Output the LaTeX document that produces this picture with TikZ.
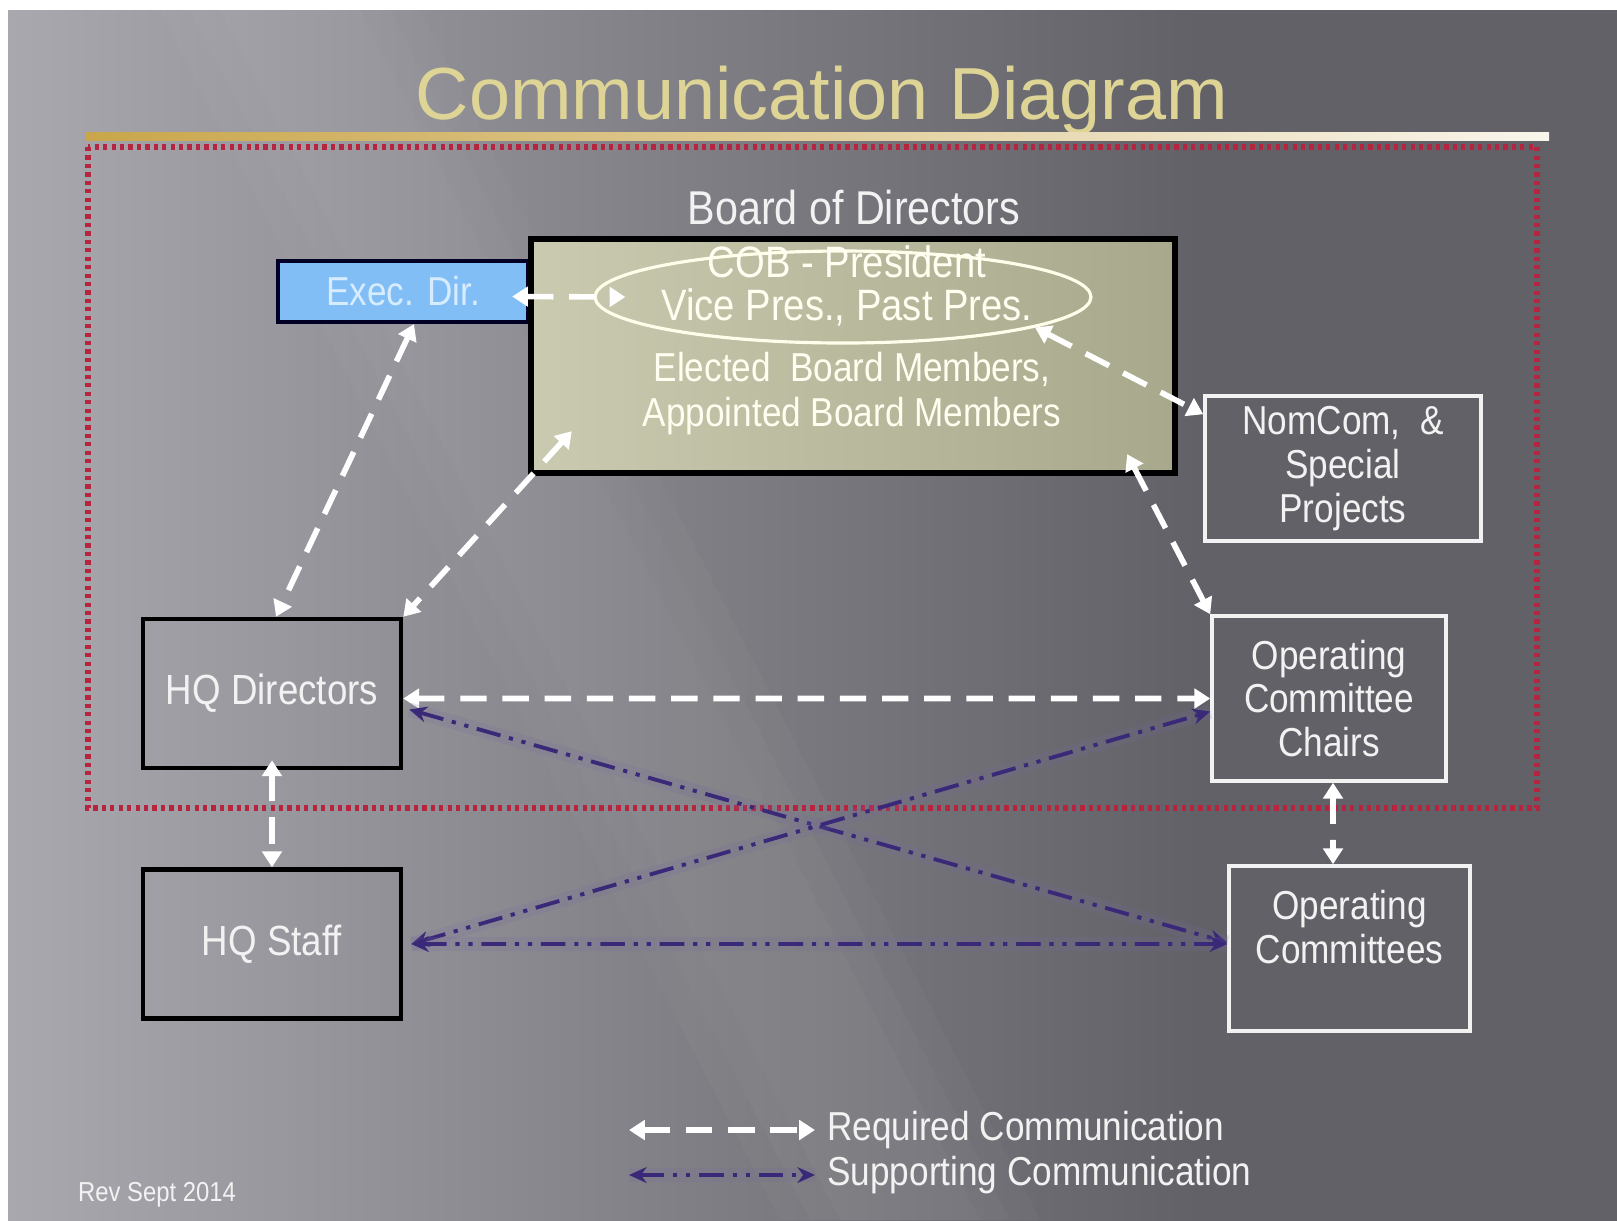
\documentclass[tikz,border=0pt]{standalone}
\usepackage{fontspec}
\setmainfont{Liberation Sans}[FakeStretch=0.87]
\newfontfamily\titlefont{Liberation Sans}
\usepackage{tikz}
\usetikzlibrary{positioning}
\usetikzlibrary{arrows.meta,shapes}
\definecolor{slatelight}{RGB}{170,168,175}
\definecolor{slatemid}{RGB}{130,129,135}
\definecolor{slatedark}{RGB}{98,97,103}
\definecolor{titlegold}{RGB}{222,212,150}
\definecolor{bargold}{RGB}{201,166,74}
\definecolor{barpale}{RGB}{238,228,190}
\definecolor{barwhite}{RGB}{248,245,236}
\definecolor{dotred}{RGB}{182,36,64}
\definecolor{boardlight}{RGB}{202,202,176}
\definecolor{boarddark}{RGB}{168,168,140}
\definecolor{execblue}{RGB}{128,190,245}
\definecolor{exectext}{RGB}{215,236,255}
\definecolor{suppurple}{RGB}{58,40,120}
\pgfdeclarehorizontalshading{slide}{100bp}{color(0bp)=(slatelight); color(25bp)=(slatelight); color(45bp)=(slatemid); color(62bp)=(slatedark); color(100bp)=(slatedark)}
\tikzstyle{box}=[rectangle,draw=white!95!black,line width=1pt,text=white!95!black,align=center,inner sep=0pt,font=\fontsize{11.5}{12.4}\selectfont]
\tikzstyle{hqbox}=[box,draw=black,line width=1.3pt,font=\fontsize{12}{13}\selectfont]
\tikzstyle{execbox}=[box,draw=black!85!blue,line width=1.2pt,fill=execblue,text=exectext]
\tikzstyle{boardbox}=[rectangle,draw=black,line width=1.8pt,left color=boardlight,right color=boarddark,inner sep=0pt]
\tikzstyle{cobring}=[ellipse,draw=white!92!yellow,line width=0.9pt,inner sep=0pt]
\tikzstyle{boardtext}=[text=white!94!yellow,align=center,font=\fontsize{11.5}{12.8}\selectfont]
\tikzstyle{legendtext}=[text=white!95!black,font=\fontsize{11.5}{13}\selectfont]
\tikzstyle{required}=[draw,white,line width=1.6pt,dash pattern=on 7.5pt off 4.5pt,{Triangle[length=4.5pt,width=5.5pt]}-{Triangle[length=4.5pt,width=5.5pt]}]
\tikzstyle{supporting}=[draw,suppurple,line width=1.1pt,dash pattern=on 7pt off 2.5pt on 1.2pt off 2.5pt on 1.2pt off 2.5pt,{Stealth[length=5pt,width=4.5pt]}-{Stealth[length=5pt,width=4.5pt]},preaction={draw=suppurple!70!white,opacity=0.18,line width=4pt,solid,-}]

\begin{document}
\begin{tikzpicture}

% Background
   \useasboundingbox (0,0) rectangle (16.17,-12.20);
   \fill[white] (0,0) rectangle (16.17,-12.20);
   \shade[shading=slide] (0.08,-0.10) rectangle (16.17,-12.20);
   \foreach \a/\b in {1.6/4.2, 1.9/3.9, 2.2/3.6}
       \fill[white,opacity=0.025] (\a,-0.10) -- (\b,-0.10) -- (\b+6.2,-12.20) -- (\a+6.2,-12.20) -- cycle;

% Label
   \node[font=\titlefont\fontsize{21}{24}\selectfont,text=titlegold] (title) at (8.22,-1.00) {Communication Diagram};
   \shade[left color=bargold,middle color=barpale,right color=barwhite] (0.85,-1.32) rectangle (15.49,-1.40);
   \draw[dotred,line width=1.5pt,dash pattern=on 1.2pt off 1.2pt] (0.88,-1.47) rectangle (15.37,-8.08);

%board
   \node[execbox,minimum width=2.50cm,minimum height=0.61cm] (exec) at (4.03,-2.915) {Exec. Dir.};
   \node[boardbox,minimum width=6.44cm,minimum height=2.34cm] (board) at (8.53,-3.56) {};
   \node[legendtext,font=\fontsize{13.5}{15}\selectfont] (boardlabel) at (8.54,-2.08) {Board of Directors};
   \node[cobring,minimum width=4.96cm,minimum height=0.92cm] (cob) at (8.43,-2.97) {};
   \node[boardtext,font=\fontsize{12.5}{12.3}\selectfont] (cobtext) at (8.47,-2.86) {COB - President\\Vice Pres., Past Pres.};
   \node[boardtext] (members) at (8.52,-3.94) {Elected~ Board Members,\\Appointed Board Members};

%committees
    \foreach \pos/\name/\w/\h/\label in {{(13.43,-4.685)/nomcom/2.76/1.45/{NomCom,~ \&\\Special\\Projects}},
        {(13.29,-6.985)/occ/2.34/1.65/{Operating\\Committee\\Chairs}},
        {(13.495,-9.485)/opcom/2.41/1.65/{Operating\\Committees\\~}}}
        \node[box,minimum width=\w cm,minimum height=\h cm] (\name) at \pos {\label};

%headquarters
    \foreach \pos/\name/\label in {{(2.72,-6.935)/hqdir/HQ Directors}, {(2.72,-9.44)/hqstaff/HQ Staff}}
        \node[hqbox,minimum width=2.58cm,minimum height=1.49cm] (\name) at \pos {\label};

 % Edges (shifts in mm)
 	%required
  	\foreach \source/\sx/\sy/\dest/\tx/\ty in {exec.east/-1.8/-0.5/cob.west/3.2/0,
  	    exec.south/1.1/0/hqdir.north/0.4/0,
  	    board.south west/4.4/4.5/hqdir.north east/0/0,
  	    cob.-9/0/0/nomcom.north west/0/-2,
  	    board.south east/-5.1/2.2/occ.north west/0/0,
  	    hqdir.east/0/-0.5/occ.west/0/0,
  	    hqdir.south/0/1/hqstaff.north/0/0,
  	    occ.south/0.4/0/opcom.north/-1.65/0}
		\path[required] ([xshift=\sx mm,yshift=\sy mm]\source) -- ([xshift=\tx mm,yshift=\ty mm]\dest);

 	%supporting
  	\foreach \source/\sx/\sy/\dest/\tx/\ty in {hqdir.east/0.6/-1.6/opcom.west/0/0.6,
  	    hqstaff.east/0.8/0/occ.west/0/-1.3,
  	    hqstaff.east/0.8/0/opcom.west/0/0.45}
		\path[supporting] ([xshift=\sx mm,yshift=\sy mm]\source) -- ([xshift=\tx mm,yshift=\ty mm]\dest);

   %Legend
   \coordinate (reqL) at (6.29,-11.30);
   \coordinate (reqR) at (8.15,-11.30);
   \coordinate (supL) at (6.29,-11.75);
   \coordinate (supR) at (8.15,-11.75);
   \path[required] (reqL) -- (reqR);
   \path[supporting] (supL) -- (supR);
   \node[legendtext,right=0mm of reqR] (reqtext) {Required Communication};
   \node[legendtext,right=0mm of supR] (suptext) {Supporting Communication};

   \node[legendtext,font=\fontsize{7.8}{9}\selectfont] (rev) at (1.57,-11.95) {Rev Sept 2014};

\end{tikzpicture}
\end{document}
